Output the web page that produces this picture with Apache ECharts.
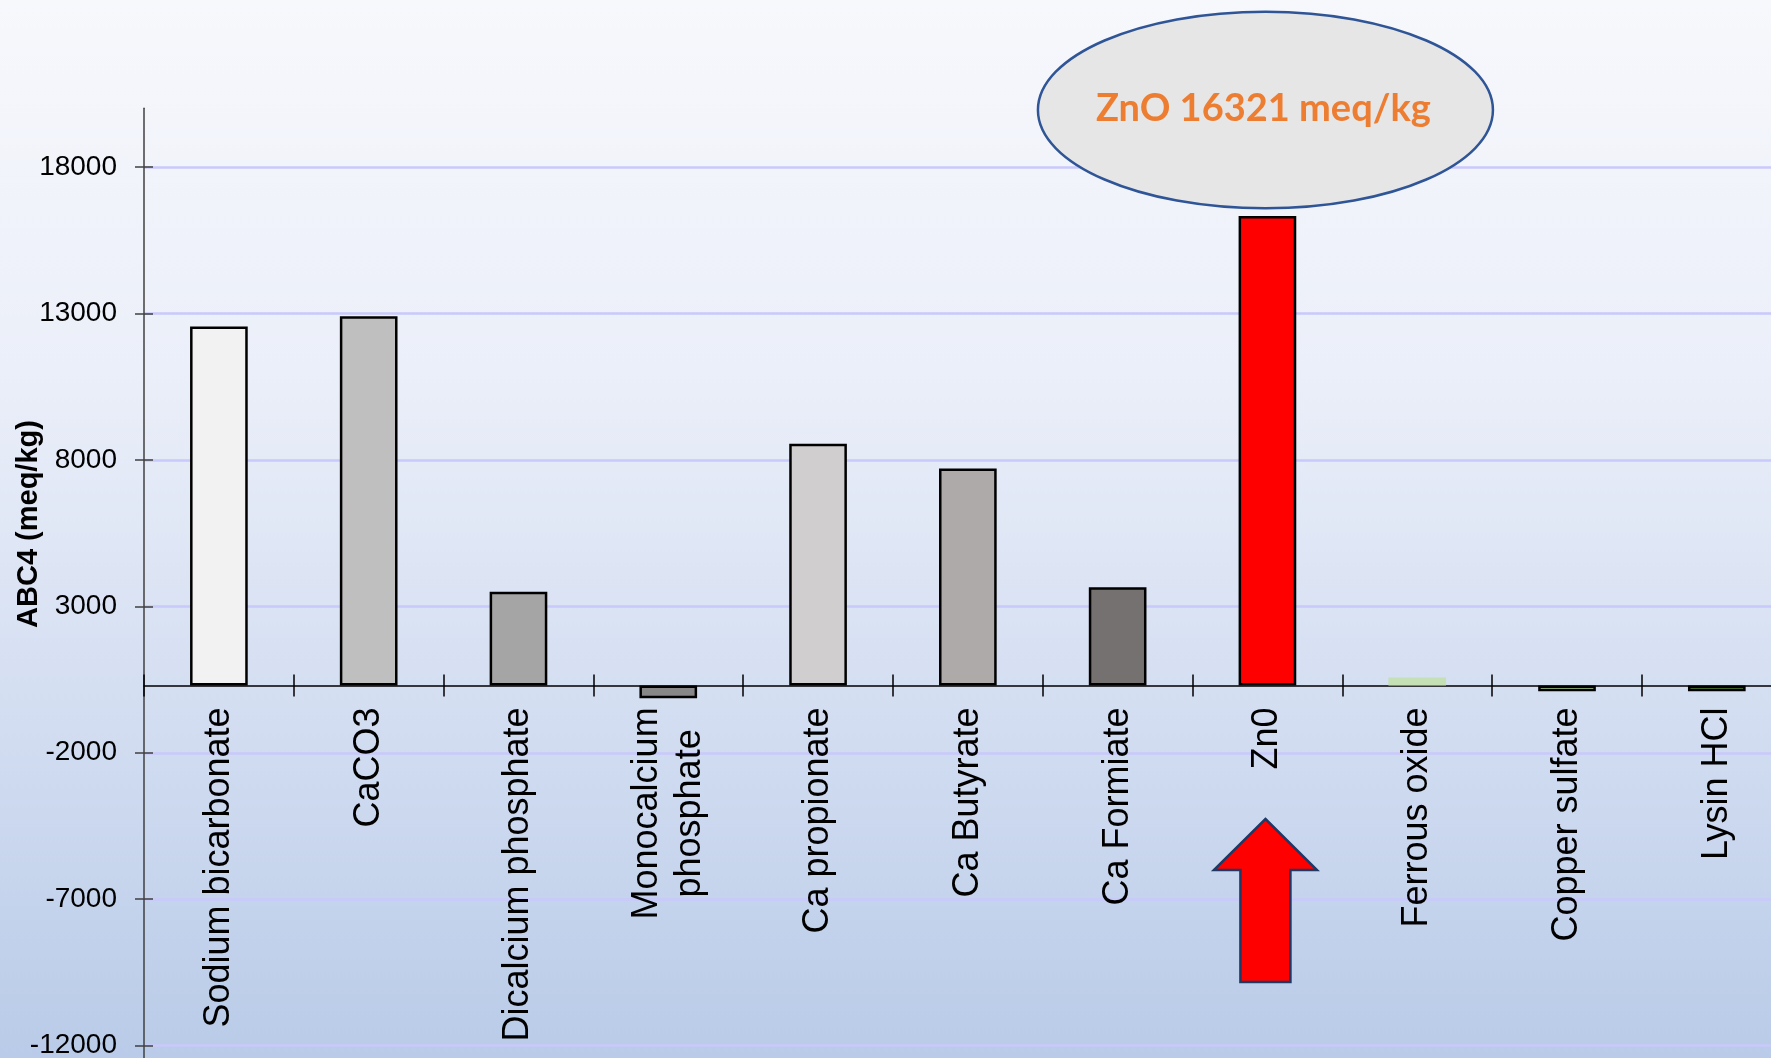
<!DOCTYPE html>
<html>
<head>
<meta charset="utf-8">
<script src="https://cdn.jsdelivr.net/npm/echarts@6/dist/echarts.min.js"></script>
<style>
  html, body { margin: 0; padding: 0; width: 1771px; height: 1058px; overflow: hidden; }
  #chart { width: 1771px; height: 1058px; }
</style>
</head>
<body>
<div id="chart"></div>
<script>
// Feed additives and their acid-binding capacity at pH 4 (meq/kg)
const categories = [
  'Sodium bicarbonate', 'CaCO3', 'Dicalcium phosphate', 'Monocalcium\nphosphate',
  'Ca propionate', 'Ca Butyrate', 'Ca Formiate', 'Zn0',
  'Ferrous oxide', 'Copper sulfate', 'Lysin HCl'
];
const abc4Values = [12550, 12900, 3500, -140, 8550, 7700, 3650, 16321, 570, 100, 100];
const barColors = [
  '#f2f2f2', '#bfbfbf', '#a5a5a5', '#878787', '#d0cece', '#aeaaaa',
  '#757171', '#ff0000', '#c5e0b4', '#a9d18e', '#548235'
];
const unborderedBars = ['Ferrous oxide'];
const yTickValues = [-12000, -7000, -2000, 3000, 8000, 13000, 18000];
const yMin = -12420;
const yMax = 20000;
// value where the category axis crosses the value axis (bars grow from here)
const axisCrossValue = 300;

const FONT = '"Liberation Sans", Arial, sans-serif';

const chart = echarts.init(document.getElementById('chart'));

const catLabel = {
  show: true,
  interval: 0,
  rotate: 90,
  margin: 22,
  formatter: v => v.split('\n').map(s => '{c|' + s + '}').join('\n'),
  rich: { c: { align: 'center', fontSize: 36, fontFamily: FONT, color: '#000', lineHeight: 43 } }
};

chart.setOption({
  animation: false,
  backgroundColor: new echarts.graphic.LinearGradient(0, 0, 0, 1, [
    { offset: 0, color: '#f7f8fc' },
    { offset: 0.35, color: '#ebeff9' },
    { offset: 0.65, color: '#d5dff2' },
    { offset: 1, color: '#b9cbe8' }
  ]),
  grid: {
    left: 144, top: 108.3, width: 1647.7, height: 949.7,
    containLabel: false, outerBoundsMode: 'none'
  },
  xAxis: [
    {
      type: 'category', data: categories, position: 'bottom',
      axisLine: { show: true, onZero: false, lineStyle: { color: '#000', width: 1.5 } },
      axisTick: { show: true, length: 11, lineStyle: { color: '#000', width: 1.5 } },
      axisLabel: catLabel,
      splitLine: { show: false }
    },
    {
      type: 'category', data: categories, position: 'bottom',
      axisLine: { show: false, onZero: false },
      axisTick: { show: true, inside: true, length: 11, lineStyle: { color: '#000', width: 1.5 } },
      axisLabel: { show: false },
      splitLine: { show: false }
    }
  ],
  yAxis: [
    {
      type: 'value', position: 'left',
      min: yMin, max: yMax, startValue: axisCrossValue,
      axisLine: { show: true, lineStyle: { color: '#404040', width: 1.5 } },
      axisTick: { show: true, length: 9, customValues: yTickValues, lineStyle: { color: '#404040', width: 1.5 } },
      axisLabel: {
        margin: 27, fontSize: 28, fontFamily: FONT, color: '#000',
        customValues: yTickValues, formatter: v => String(v)
      },
      splitLine: { show: true, lineStyle: { color: '#c9c9fb', width: 2.5 } }
    },
    {
      type: 'value', position: 'left',
      min: yMin, max: yMax,
      axisLine: { show: false },
      axisTick: { show: true, inside: true, length: 9, customValues: yTickValues, lineStyle: { color: '#404040', width: 1.5 } },
      axisLabel: { show: false },
      splitLine: { show: false }
    }
  ],
  series: [{
    type: 'bar',
    xAxisIndex: 0,
    yAxisIndex: 0,
    barWidth: '38.5%',
    data: abc4Values.map((v, i) => {
      const plain = unborderedBars.includes(categories[i]);
      return {
        value: v,
        itemStyle: {
          color: barColors[i],
          borderColor: plain ? 'rgba(0,0,0,0)' : '#000',
          borderWidth: plain ? 0 : 2.5
        }
      };
    })
  }]
});

// Put the category axis at the crossing value, then annotate the highest bar
const baseY = chart.convertToPixel({ yAxisIndex: 0 }, axisCrossValue);
const bottomY = chart.convertToPixel({ yAxisIndex: 0 }, yMin);
const peakIdx = abc4Values.indexOf(Math.max(...abc4Values));
const cx = chart.convertToPixel({ xAxisIndex: 0 }, categories[peakIdx]) - 2;

chart.setOption({
  xAxis: [{ offset: baseY - bottomY }, { offset: baseY - bottomY }],
  graphic: [
    {
      type: 'text', x: 29, y: 524, rotation: Math.PI / 2,
      style: {
        text: 'ABC4 (meq/kg)', fill: '#000', align: 'center', verticalAlign: 'middle',
        fontSize: 29, fontWeight: 'bold', fontFamily: FONT
      }
    },
    {
      type: 'ellipse', z: 100,
      shape: { cx: cx, cy: 110, rx: 227.5, ry: 98.3 },
      style: { fill: '#e6e6e6', stroke: '#2f5597', lineWidth: 2.5 }
    },
    {
      type: 'text', z: 101, x: cx - 2, y: 109,
      style: {
        text: 'ZnO ' + abc4Values[peakIdx] + ' meq/kg', fill: '#ed7d31',
        align: 'center', verticalAlign: 'middle',
        fontSize: 38, fontWeight: 'bold', fontFamily: 'Lato, "Open Sans", sans-serif'
      }
    },
    {
      type: 'polygon', z: 100,
      shape: {
        points: [
          [cx, 819], [cx + 51.5, 870], [cx + 25, 870], [cx + 25, 982],
          [cx - 25, 982], [cx - 25, 870], [cx - 51.5, 870]
        ]
      },
      style: { fill: '#ff0000', stroke: '#1f3864', lineWidth: 2.5 }
    }
  ]
});
</script>
</body>
</html>
